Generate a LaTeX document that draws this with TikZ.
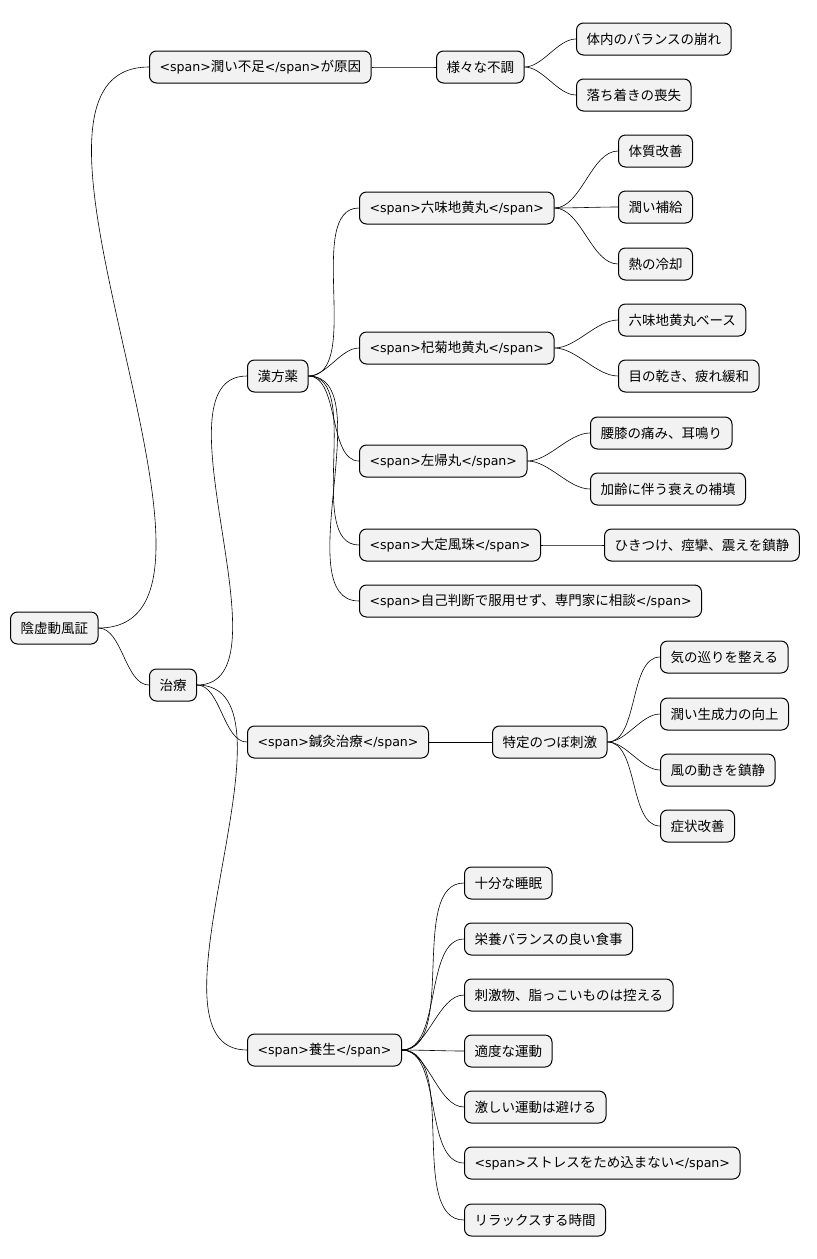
\documentclass[tikz,border=0pt]{standalone}
\usepackage{fontspec}
\setmainfont{Noto Sans CJK JP}
\newfontfamily\dvfont{DejaVu Sans}
\newcommand\tgo{{\dvfont\fontsize{12.6}{15}\selectfont<span>}}
\newcommand\tgc{{\dvfont\fontsize{12.6}{15}\selectfont</span>}}
\begin{document}
\begin{tikzpicture}[x=1pt,y=-1pt,
every node/.style={draw, line width=1pt, fill=black!5, rounded corners=7pt, anchor=west,
  minimum height=32pt, inner xsep=10pt, font=\fontsize{13.5}{15}\selectfont},
link/.style={line width=0.6pt, out=0, in=180, looseness=0.8}
]
\useasboundingbox (0,0) rectangle (817,1259);
\node at (10,628) (root) {陰虚動風証};
\node at (149,67) (cause) {\tgo{}潤い不足\tgc{}が原因};
\node at (436,67) (fuchou) {様々な不調};
\node at (576,39) (bal) {体内のバランスの崩れ};
\node at (576,95) (ochi) {落ち着きの喪失};
\node at (149,685) (chiryo) {治療};
\node at (247,376) (kampo) {漢方薬};
\node at (359,208) (rokumi) {\tgo{}六味地黄丸\tgc{}};
\node at (618,151) (taishitsu) {体質改善};
\node at (618,207) (uruoi) {潤い補給};
\node at (618,264) (netsu) {熱の冷却};
\node at (359,348) (kogiku) {\tgo{}杞菊地黄丸\tgc{}};
\node at (618,320) (base) {六味地黄丸ベース};
\node at (618,376) (me) {目の乾き、疲れ緩和};
\node at (359,461) (saki) {\tgo{}左帰丸\tgc{}};
\node at (590,433) (koshi) {腰膝の痛み、耳鳴り};
\node at (590,489) (karei) {加齢に伴う衰えの補填};
\node at (359,545) (daitei) {\tgo{}大定風珠\tgc{}};
\node at (604,545) (hiki) {ひきつけ、痙攣、震えを鎮静};
\node at (359,601) (jiko) {\tgo{}自己判断で服用せず、専門家に相談\tgc{}};
\node at (247,742) (shinkyu) {\tgo{}鍼灸治療\tgc{}};
\node at (492,742) (tsubo) {特定のつぼ刺激};
\node at (660,657) (ki) {気の巡りを整える};
\node at (660,714) (sei) {潤い生成力の向上};
\node at (660,770) (kaze) {風の動きを鎮静};
\node at (660,826) (sho) {症状改善};
\node at (247,1050) (yojo) {\tgo{}養生\tgc{}};
\node at (464,883) (sui) {十分な睡眠};
\node at (464,939) (eiyo) {栄養バランスの良い食事};
\node at (464,995) (shigeki) {刺激物、脂っこいものは控える};
\node at (464,1051) (tekido) {適度な運動};
\node at (464,1107) (hageshi) {激しい運動は避ける};
\node at (464,1163) (stress) {\tgo{}ストレスをため込まない\tgc{}};
\node at (464,1220) (relax) {リラックスする時間};

\draw[link] (root.east) to (cause.west);
\draw[link] (root.east) to (chiryo.west);
\draw[link] (cause.east) to (fuchou.west);
\draw[link] (fuchou.east) to (bal.west);
\draw[link] (fuchou.east) to (ochi.west);
\draw[link] (chiryo.east) to (kampo.west);
\draw[link] (chiryo.east) to (shinkyu.west);
\draw[link] (chiryo.east) to (yojo.west);
\draw[link] (kampo.east) to (rokumi.west);
\draw[link] (kampo.east) to (kogiku.west);
\draw[link] (kampo.east) to (saki.west);
\draw[link] (kampo.east) to (daitei.west);
\draw[link] (kampo.east) to (jiko.west);
\draw[link] (rokumi.east) to (taishitsu.west);
\draw[link] (rokumi.east) to (uruoi.west);
\draw[link] (rokumi.east) to (netsu.west);
\draw[link] (kogiku.east) to (base.west);
\draw[link] (kogiku.east) to (me.west);
\draw[link] (saki.east) to (koshi.west);
\draw[link] (saki.east) to (karei.west);
\draw[link] (daitei.east) to (hiki.west);
\draw[link] (shinkyu.east) to (tsubo.west);
\draw[link] (tsubo.east) to (ki.west);
\draw[link] (tsubo.east) to (sei.west);
\draw[link] (tsubo.east) to (kaze.west);
\draw[link] (tsubo.east) to (sho.west);
\draw[link] (yojo.east) to (sui.west);
\draw[link] (yojo.east) to (eiyo.west);
\draw[link] (yojo.east) to (shigeki.west);
\draw[link] (yojo.east) to (tekido.west);
\draw[link] (yojo.east) to (hageshi.west);
\draw[link] (yojo.east) to (stress.west);
\draw[link] (yojo.east) to (relax.west);
\end{tikzpicture}
\end{document}
